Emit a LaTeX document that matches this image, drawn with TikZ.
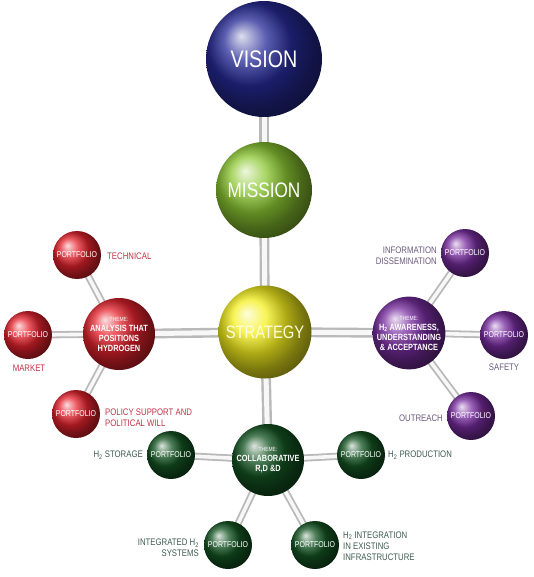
\documentclass[tikz,border=0pt]{standalone}
\usepackage{fontspec}
\setmainfont[FakeStretch=0.82]{Liberation Sans}
\usepackage{tikz}
\usetikzlibrary{backgrounds}
\definecolor{visblue}{RGB}{38,42,150}
\definecolor{misgreen}{RGB}{140,200,50}
\definecolor{strayel}{RGB}{245,240,30}
\definecolor{redball}{RGB}{230,35,45}
\definecolor{purball}{RGB}{120,45,160}
\definecolor{grnball}{RGB}{20,85,35}
\definecolor{redtxt}{RGB}{190,50,70}
\definecolor{purtxt}{RGB}{105,90,125}
\definecolor{grntxt}{RGB}{60,90,80}
\tikzset{
  orb/.style    = {circle, inner sep=0pt, shading=ball, text=white, align=center},
  theme/.style  = {orb, minimum size=72pt, font=\fontsize{9}{10}\selectfont\bfseries},
  port/.style   = {orb, minimum size=48pt, font=\fontsize{8.5}{10}\selectfont},
  lbl/.style    = {inner sep=0pt, font=\fontsize{9.5}{11}\selectfont},
  pipe/.style   = {draw=gray!55, line width=2.4pt, double=gray!6, double distance=5pt},
  tube/.style   = {pipe, line width=1.8pt, double distance=3.6pt},
}
\newcommand{\thm}{{\fontsize{6}{7}\selectfont\mdseries THEME:}}
\newcommand{\Htwo}{H\textsubscript{2}}

\begin{document}
\begin{tikzpicture}[x=1pt, y=-1pt]
\useasboundingbox (0,0) rectangle (534,577);

\node[orb, ball color=visblue, minimum size=116pt, font=\fontsize{24}{24}\selectfont] (vision) at (264,59) {VISION};
\node[orb, ball color=misgreen, minimum size=96pt, font=\fontsize{21}{21}\selectfont] (mission) at (264,190) {MISSION};
\node[orb, ball color=strayel, minimum size=93pt, font=\fontsize{18}{18}\selectfont, text=yellow!15] (strat) at (265,332) {STRATEGY};

% themes
\node[theme, ball color=redball] (thana) at (119,334)
     {\thm\\ANALYSIS THAT\\POSITIONS\\HYDROGEN};
\node[theme, ball color=purball] (thaw) at (409,333)
     {\thm\\\Htwo{} AWARENESS,\\UNDERSTANDING\\\& ACCEPTANCE};
\node[theme, ball color=grnball] (thrd) at (268,460)
     {\thm\\COLLABORATIVE\\R,D \&D};

% portfolios
\foreach \n/\c/\x/\y in {ptech/redball/77/255, pmkt/redball/28/335, ppol/redball/76/414,
                         pinfo/purball/465/253, psafe/purball/504/335, pout/purball/471/416,
                         pstor/grnball/171/455, pprod/grnball/361/455,
                         psys/grnball/228/545, pinfra/grnball/315/545}
  {\node[port, ball color=\c] (\n) at (\x,\y) {PORTFOLIO};}

% labels
\node[lbl, text=redtxt, anchor=west] (ltech) at (107,256) {TECHNICAL};
\node[lbl, text=redtxt] (lmkt) at (29,368) {MARKET};
\node[lbl, text=redtxt, anchor=west, align=left] (lpol) at (105,418) {POLICY SUPPORT AND\\POLITICAL WILL};
\node[lbl, text=purtxt, anchor=east, align=right] (linfo) at (437,256) {INFORMATION\\DISSEMINATION};
\node[lbl, text=purtxt] (lsafe) at (504,367) {SAFETY};
\node[lbl, text=purtxt, anchor=east] (lout) at (443,418) {OUTREACH};
\node[lbl, text=grntxt, anchor=east] (lstor) at (143,455) {\Htwo{} STORAGE};
\node[lbl, text=grntxt, anchor=west] (lprod) at (388,455) {\Htwo{} PRODUCTION};
\node[lbl, text=grntxt, anchor=east, align=right] (lsys) at (199,548) {INTEGRATED \Htwo\\SYSTEMS};
\node[lbl, text=grntxt, anchor=west, align=left] (linfra) at (343,546) {\Htwo{} INTEGRATION\\IN EXISTING\\INFRASTRUCTURE};

\begin{scope}[on background layer]
\foreach \a/\b in {vision/mission, mission/strat, strat/thana, strat/thaw, strat/thrd}
  {\draw[pipe] (\a.center) -- (\b.center);}
\foreach \a/\b in {thana/ptech, thana/pmkt, thana/ppol, thaw/pinfo, thaw/psafe, thaw/pout,
                   thrd/pstor, thrd/pprod, thrd/psys, thrd/pinfra}
  {\draw[tube] (\a.center) -- (\b.center);}
\end{scope}
\end{tikzpicture}
\end{document}
